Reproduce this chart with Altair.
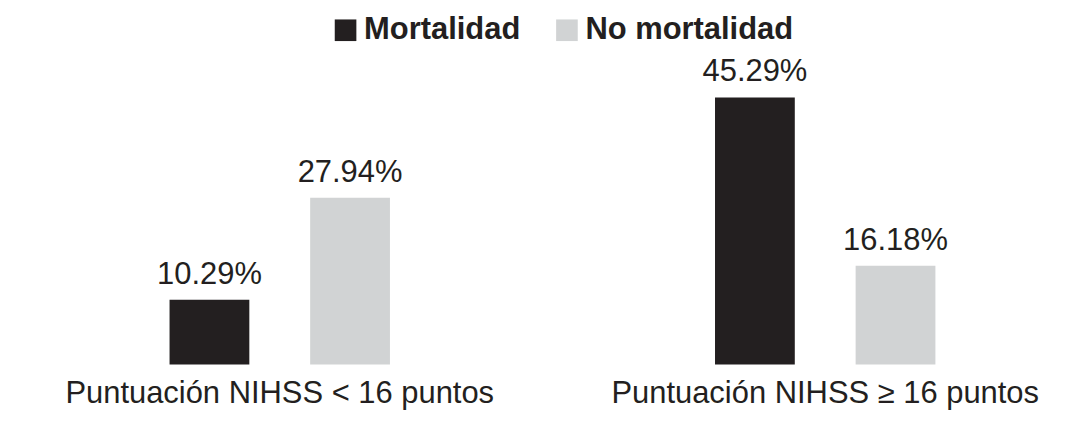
import altair as alt
import pandas as pd

groups = ["Puntuación NIHSS < 16 puntos", "Puntuación NIHSS ≥ 16 puntos"]
series = ["Mortalidad", "No mortalidad"]
mortalidad = [10.29, 45.29]
no_mortalidad = [27.94, 16.18]
colors = ["#231f20", "#d1d3d4"]

rows = []
for g, m, n in zip(groups, mortalidad, no_mortalidad):
    rows.append({"grupo": g, "serie": series[0], "valor": m})
    rows.append({"grupo": g, "serie": series[1], "valor": n})
df = pd.DataFrame(rows)

W, H = 1050, 315
FONT = "Liberation Sans"
TXT = "#231f20"

x = alt.X(
    "grupo:N", sort=groups,
    scale=alt.Scale(paddingInner=0.0804, paddingOuter=0),
    axis=alt.Axis(title=None, labelAngle=0, domain=False, ticks=False, grid=False,
                  labelFontSize=31, labelFont=FONT, labelColor=TXT,
                  labelPadding=14, labelLimit=600),
)
xo = alt.XOffset("serie:N", sort=series,
                 scale=alt.Scale(paddingInner=0.4326, paddingOuter=1.0))
y = alt.Y("valor:Q", scale=alt.Scale(domain=[-0.93, 53.42], nice=False, zero=False),
          axis=None)

base = alt.Chart(df).transform_calculate(
    etiqueta="format(datum.valor, '.2f') + '%'"
)

bars = base.mark_bar().encode(
    x=x, xOffset=xo, y=y, y2=alt.datum(-0.93),
    color=alt.Color(
        "serie:N", sort=series,
        scale=alt.Scale(domain=series, range=colors),
        legend=alt.Legend(
            orient="none", legendX=302, legendY=-36, direction="horizontal",
            title=None, symbolType="square", symbolSize=470, symbolStrokeWidth=0,
            labelFont=FONT, labelFontSize=31, labelFontWeight="bold",
            labelColor=TXT, labelOffset=3, columnPadding=31, labelLimit=400,
        ),
    ),
)

labels = base.mark_text(
    font=FONT, fontSize=31, dy=-16, baseline="alphabetic", align="center", color=TXT
).encode(x=x, xOffset=xo, y=y, text="etiqueta:N")

chart = (
    alt.layer(bars, labels)
    .properties(width=W, height=H,
                autosize=alt.AutoSizeParams(type="none"),
                padding={"left": 21, "top": 42, "right": 5, "bottom": 50})
    .configure_view(stroke=None)
)

chart.save("out.html", embed_options={"renderer": "svg", "actions": False})
